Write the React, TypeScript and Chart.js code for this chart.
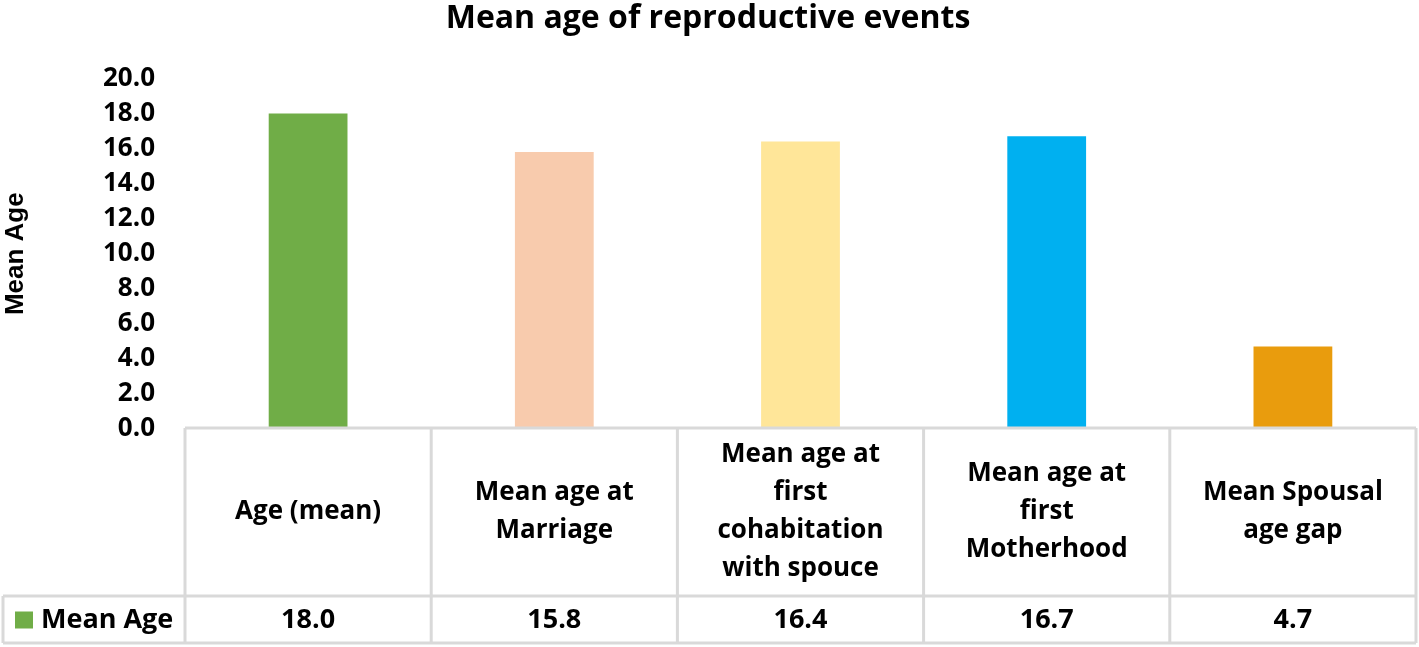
import React, { useEffect, useRef } from "react";
import { Chart, registerables } from "chart.js";

Chart.register(...registerables);

const chartTitle = "Mean age of reproductive events";
const yAxisTitle = "Mean Age";
const seriesName = "Mean Age";
const categories: string[][] = [
  ["Age (mean)"],
  ["Mean age at", "Marriage"],
  ["Mean age at", "first", "cohabitation", "with spouce"],
  ["Mean age at", "first", "Motherhood"],
  ["Mean Spousal", "age gap"],
];
const meanAges = [18.0, 15.8, 16.4, 16.7, 4.7];
const barColors = ["#70AD47", "#F8CBAD", "#FFE699", "#00B0F0", "#E99C0D"];
const legendColor = "#70AD47";
const yMin = 0;
const yMax = 20;
const yStep = 2;

const FONT = "'Open Sans', Lato, sans-serif";

const tablePlugin = {
  id: "dataTable",
  afterDraw(chart: any) {
    const ctx = chart.ctx as CanvasRenderingContext2D;
    const ca = chart.chartArea;
    const n = categories.length;
    const w = (ca.right - ca.left) / n;
    const top = ca.bottom - 1;
    const headerH = 168;
    const rowH = 47;
    const mid = top + headerH;
    const bottom = mid + rowH;
    const legendLeft = 3;

    ctx.save();
    ctx.strokeStyle = "#D9D9D9";
    ctx.lineWidth = 3;
    ctx.beginPath();
    ctx.moveTo(ca.left, top);
    ctx.lineTo(ca.right, top);
    ctx.moveTo(legendLeft, mid);
    ctx.lineTo(ca.right, mid);
    ctx.moveTo(legendLeft, bottom);
    ctx.lineTo(ca.right, bottom);
    for (let i = 0; i <= n; i++) {
      const x = ca.left + i * w;
      ctx.moveTo(x, top);
      ctx.lineTo(x, bottom);
    }
    ctx.moveTo(legendLeft, mid);
    ctx.lineTo(legendLeft, bottom);
    ctx.stroke();

    ctx.fillStyle = "#000";
    ctx.textAlign = "center";
    ctx.textBaseline = "middle";
    const lineH = 38;
    const xs = chart.scales.x;
    categories.forEach((lines, i) => {
      const cx = xs.getPixelForValue(i);
      const cy = top + headerH / 2;
      const startY = cy - ((lines.length - 1) * lineH) / 2;
      ctx.font = `bold 26px ${FONT}`;
      lines.forEach((ln, j) => ctx.fillText(ln, cx, startY + j * lineH));
      ctx.font = `bold 27px ${FONT}`;
      ctx.fillText(meanAges[i].toFixed(1), cx, mid + rowH / 2 + 1);
    });

    const ry = mid + rowH / 2;
    ctx.fillStyle = legendColor;
    ctx.fillRect(15, ry - 8, 18, 17);
    ctx.fillStyle = "#000";
    ctx.textAlign = "left";
    ctx.font = `bold 27px ${FONT}`;
    ctx.fillText(seriesName, 41, ry + 1);
    ctx.restore();
  },
};

export default function App() {
  const ref = useRef<HTMLCanvasElement | null>(null);
  useEffect(() => {
    if (!ref.current) return;
    const chart = new Chart(ref.current, {
      type: "bar",
      data: {
        labels: categories,
        datasets: [
          {
            label: seriesName,
            data: meanAges,
            backgroundColor: barColors,
            borderWidth: 0,
            categoryPercentage: 1,
            barPercentage: 0.32,
          },
        ],
      },
      options: {
        animation: false,
        responsive: false,
        maintainAspectRatio: false,
        layout: { padding: { left: 0, right: 3, top: 0, bottom: 218 } },
        plugins: {
          legend: { display: false },
          tooltip: { enabled: false },
          title: {
            display: true,
            text: chartTitle,
            color: "#000",
            font: { family: FONT, size: 32, weight: "bold" },
            padding: { top: 0, bottom: 40 },
          },
        },
        scales: {
          x: { display: false, offset: true },
          y: {
            min: yMin,
            max: yMax,
            ticks: {
              stepSize: yStep,
              autoSkip: false,
              color: "#000",
              padding: 22,
              font: { family: FONT, size: 26, weight: "bold", lineHeight: 1 },
              callback: (v: any) => Number(v).toFixed(1),
            },
            grid: { display: false },
            border: { display: false },
            title: {
              display: true,
              text: yAxisTitle,
              color: "#000",
              font: { family: "'Liberation Sans', Arial, sans-serif", size: 26, weight: "bold" },
              padding: { top: 0, bottom: 0 },
            },
            afterFit: (scale: any) => {
              scale.width = 185;
            },
          },
        },
      },
      plugins: [tablePlugin],
    });
    return () => chart.destroy();
  }, []);
  return (
    <div style={{ position: "fixed", left: 0, top: 0, width: 1419, height: 647, background: "#fff" }}>
      <canvas ref={ref} width={1419} height={647} style={{ display: "block" }} />
    </div>
  );
}
